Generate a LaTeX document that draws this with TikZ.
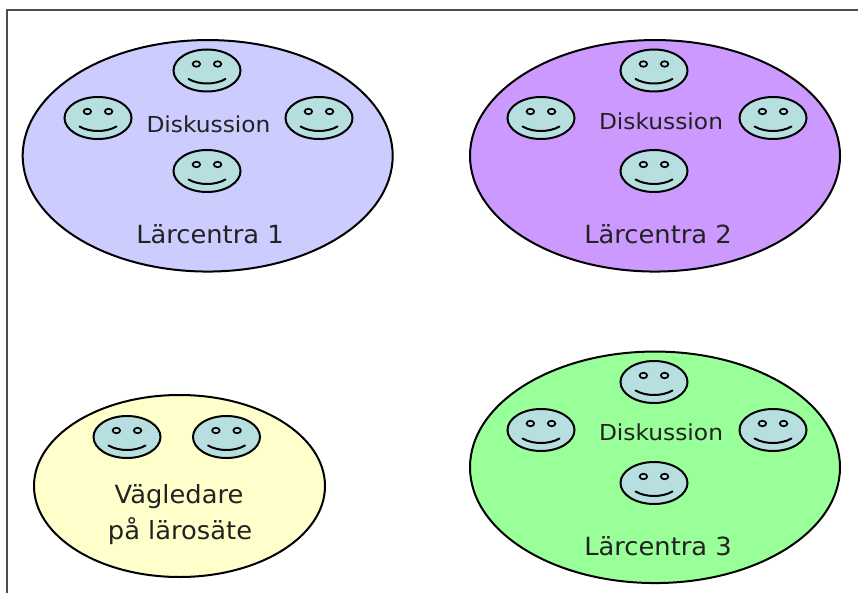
\documentclass[tikz,border=0pt]{standalone}
\usepackage{fontspec}
\setmainfont{DejaVu Sans}
\usetikzlibrary{shapes.geometric}
\definecolor{facecol}{HTML}{B8DFE0}
\definecolor{lilac}{HTML}{CCCCFF}
\definecolor{violet2}{HTML}{CC99FF}
\definecolor{mint}{HTML}{99FF99}
\definecolor{cream}{HTML}{FFFFCC}
\definecolor{inkcol}{HTML}{222222}
\tikzset{
  bigoval/.style={draw=black,line width=2pt,ellipse,inner sep=0pt,outer sep=0pt,minimum width=370pt,minimum height=231.5pt},
  faceoval/.style={draw=black,line width=2pt,fill=facecol,ellipse,inner sep=0pt,outer sep=0pt,minimum width=67pt,minimum height=42pt},
  eyeoval/.style={draw=black,line width=1.7pt,fill=facecol,ellipse,inner sep=0pt,outer sep=0pt,minimum width=7.5pt,minimum height=5.5pt},
  mouthline/.style={draw=black,line width=2pt,line cap=round},
  smalltext/.style={inkcol,inner sep=0pt,font=\fontsize{22}{26}\selectfont},
  bigtext/.style={inkcol,inner sep=0pt,font=\fontsize{25}{30}\selectfont},
  pics/smiley/.style={code={
    \node[faceoval] (-f) at (0,0) {};
    \node[eyeoval] (-l) at (-10.6,-6.5) {};
    \node[eyeoval] (-r) at (10.6,-6.5) {};
    \coordinate (-a) at (-18.5,8.5);
    \coordinate (-b) at (18.5,8.5);
    \draw[mouthline] (-a) .. controls (-8,14.5) and (8,14.5) .. (-b);
  }}
}
\newcommand{\wide}[2]{\scalebox{#1}[1]{#2}}
\begin{document}
\begin{tikzpicture}[x=1pt,y=-1pt]
\useasboundingbox (0,0) rectangle (858,593);
\coordinate (frameA) at (7,593);
\coordinate (frameB) at (7,10);
\coordinate (frameC) at (858,10);
\draw[color=black!70,line width=1.4pt] (frameA) -- (frameB) -- (frameC);

\node[bigoval,fill=lilac] (c1) at (207.7,155.8) {};
\node[bigoval,fill=violet2] (c2) at (655,155.8) {};
\node[bigoval,fill=mint] (c3) at (655,467.3) {};
\node[bigoval,fill=cream,minimum width=291pt,minimum height=182pt] (g) at (179.5,486) {};

\pic (a1) at (207,70.5) {smiley};
\pic (a2) at (98,118) {smiley};
\pic (a3) at (319,118) {smiley};
\pic (a4) at (207,171) {smiley};

\pic (b1) at (654,70.5) {smiley};
\pic (b2) at (541,118) {smiley};
\pic (b3) at (773,118) {smiley};
\pic (b4) at (654,171) {smiley};

\pic (d1) at (654,382) {smiley};
\pic (d2) at (541,430) {smiley};
\pic (d3) at (773,430) {smiley};
\pic (d4) at (654,483) {smiley};

\pic (g1) at (127,437) {smiley};
\pic (g2) at (226.5,437) {smiley};

\node[smalltext] (t1) at (208.5,124) {\wide{1.06}{Diskussion}};
\node[smalltext] (t2) at (661,121) {\wide{1.06}{Diskussion}};
\node[smalltext] (t3) at (661,432) {\wide{1.06}{Diskussion}};
\node[bigtext] (l1) at (210,234) {\wide{1.03}{Lärcentra 1}};
\node[bigtext] (l2) at (658,234) {\wide{1.03}{Lärcentra 2}};
\node[bigtext] (l3) at (658,546) {\wide{1.03}{Lärcentra 3}};
\node[bigtext] (v1) at (179,497) {\wide{1.03}{Vägledare}};
\node[bigtext] (v2) at (180,531) {\wide{1.03}{på lärosäte}};
\end{tikzpicture}
\end{document}
